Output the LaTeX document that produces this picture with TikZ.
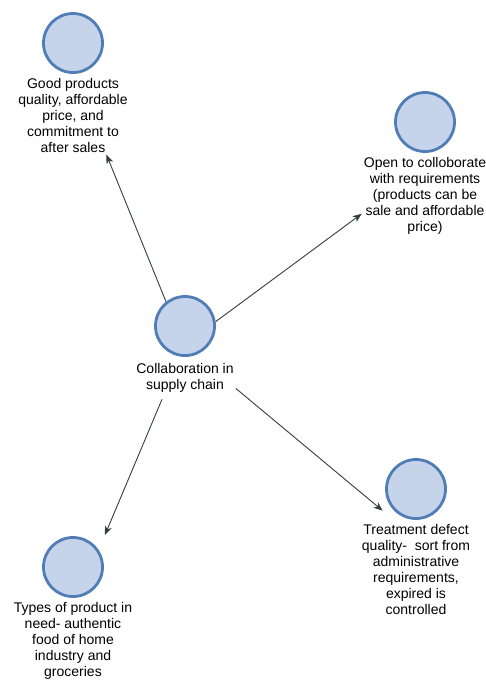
\documentclass[tikz,border=0pt]{standalone}
\usepackage{fontspec}
\setmainfont{Liberation Sans}
\usetikzlibrary{arrows.meta,positioning}
\definecolor{bubblefill}{RGB}{198,212,235}
\definecolor{bubbleline}{RGB}{80,125,182}
\definecolor{arrowcol}{RGB}{50,64,64}
\begin{document}
\begin{tikzpicture}[x=1pt, y=-1pt, >={Stealth[length=9pt,width=7pt,inset=2.5pt]}]
      \tikzstyle{bubble}=[draw=bubbleline, fill=bubblefill, circle, line width=2.8pt, minimum size=59pt, inner sep=0pt]
      \tikzstyle{caption}=[align=center, inner sep=2pt, font=\fontsize{14}{16}\selectfont]
      \tikzstyle{link}=[->, draw=arrowcol, line width=0.9pt]

      \useasboundingbox[fill=white] (0,0) rectangle (486,681);

      \node[bubble] (good) at (73,43) {};
      \node[caption, below=2pt of good] (good-txt) {Good products\\quality, affordable\\price, and\\commitment to\\after sales};

      \node[bubble] (open) at (425,122) {};
      \node[caption, below=2pt of open] (open-txt) {Open to colloborate\\with requirements\\(products can be\\sale and affordable\\price)};

      \node[bubble] (collab) at (185,326) {};
      \node[caption, below=4pt of collab] (collab-txt) {Collaboration in\\supply chain};

      \node[bubble] (treat) at (416,489) {};
      \node[caption, below=2pt of treat] (treat-txt) {Treatment defect\\quality-\ \ sort from\\administrative\\requirements,\\expired is\\controlled};

      \node[bubble] (types) at (73,567) {};
      \node[caption, below=2pt of types] (types-txt) {Types of product in\\need- authentic\\food of home\\industry and\\groceries};

      \draw[link] (collab.128) -- ([xshift=-2pt]good-txt.-48);
      \draw[link] (collab.8) -- (open-txt.196);
      \draw[link] (collab-txt.-12) -- ([xshift=-8pt,yshift=-4pt]treat.215);
      \draw[link] ([xshift=-23pt,yshift=-5pt]collab-txt.south) -- ([xshift=10pt,yshift=10pt]types.45);
    \end{tikzpicture}
\end{document}
